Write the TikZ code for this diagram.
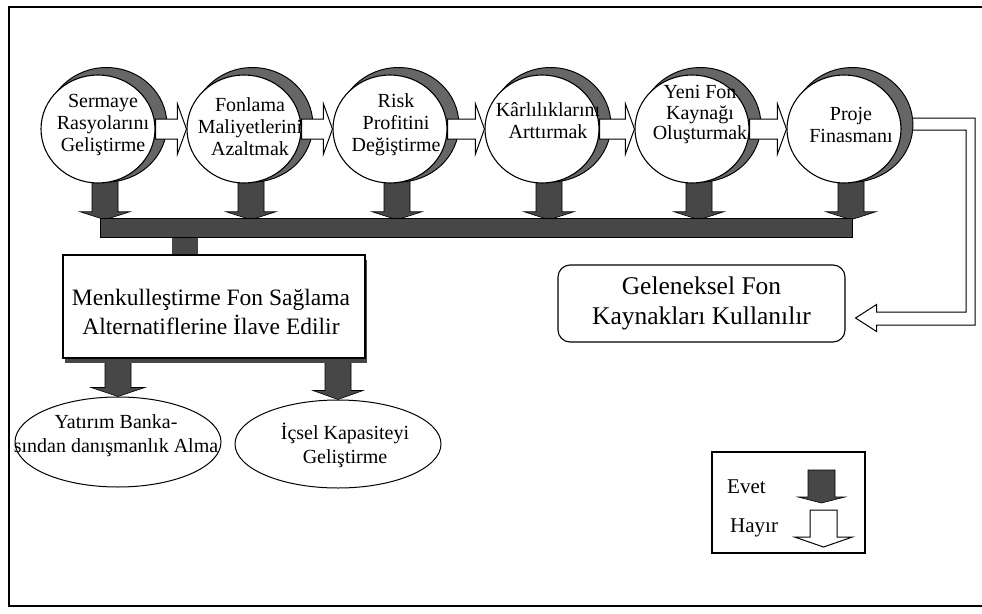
\documentclass[tikz,border=0pt]{standalone}
\usepackage{fontspec}
\setmainfont{Liberation Serif}
\usetikzlibrary{shapes.geometric,shadows,calc}
\pgfdeclarelayer{back}
\pgfsetlayers{back,main}
\colorlet{barfill}{black!72}
\colorlet{ringfill}{black!60}
\tikzset{
  frameline/.style={line width=1.4pt, draw=black},
  goal/.style={ellipse, draw=black, line width=1.1pt, fill=white,
    minimum width=114pt, minimum height=108pt, inner sep=0pt,
    general shadow={shadow xshift=8pt, shadow yshift=4pt, shadow scale=1.06,
      fill=ringfill, draw=black, line width=0.9pt}},
  ctext/.style={align=center, inner sep=0pt, font=\fontsize{20}{22}\selectfont},
  darkbar/.style={rectangle, fill=barfill, draw=black, line width=0.5pt, inner sep=0pt},
  darkarrow/.style={fill=barfill, draw=black, line width=0.6pt},
  whitearrow/.style={fill=white, draw=black, line width=1pt},
  % vertical block arrow: body half width, head half width, head depth
  vblock/.style n args={3}{to path={let \p1=(\tikztostart), \p2=(\tikztotarget) in
    (\x2-#1,\y1) -- (\x2-#1,\y2+#3) -- (\x2-#2,\y2+#3) -- (\x2,\y2)
    -- (\x2+#2,\y2+#3) -- (\x2+#1,\y2+#3) -- (\x2+#1,\y1) -- cycle}},
  % horizontal block arrow to the right
  hblock/.style={to path={let \p1=(\tikztostart), \p2=(\tikztotarget) in
    (\x1,\y2+10pt) -- (\x2-9pt,\y2+10pt) -- (\x2-9pt,\y2+25pt) -- (\x2,\y2)
    -- (\x2-9pt,\y2-25pt) -- (\x2-9pt,\y2-10pt) -- (\x1,\y2-10pt) -- cycle}},
  mainbox/.style={rectangle, draw=black, line width=1.1pt, fill=white,
    minimum width=302pt, minimum height=103pt, inner sep=0pt,
    general shadow={shadow xshift=1.5pt, shadow yshift=-5pt, fill=barfill}},
  oval/.style={ellipse, draw=black, line width=1pt, fill=white,
    minimum width=206pt, minimum height=90pt, inner sep=0pt},
  otext/.style={align=center, inner sep=0pt, font=\fontsize{20}{24}\selectfont},
  roundbox/.style={rectangle, rounded corners=12pt, draw=black, line width=1.1pt,
    fill=white, minimum width=287pt, minimum height=77pt, align=center,
    font=\fontsize{25.5}{30}\selectfont},
  legendbox/.style={rectangle, draw=black, line width=1.1pt,
    minimum width=153pt, minimum height=101pt, inner sep=0pt},
  ltext/.style={anchor=west, inner sep=0pt, font=\fontsize{21}{24}\selectfont},
}
\begin{document}
\begin{tikzpicture}[x=1pt,y=-1pt]
\useasboundingbox (0,0) rectangle (982,613);
\clip (0,0) rectangle (982,613);

% outer frame (open to the right)
\draw[frameline] (1000,7) -- (9,7) -- (9,606) -- (1000,606);

% goal circles
\node[goal] (c1) at (98,129) {};
\node[goal] (c2) at (244,129) {};
\node[goal] (c3) at (390,129) {};
\node[goal] (c4) at (542,129) {};
\node[goal] (c5) at (692,129) {};
\node[goal] (c6) at (844,129) {};

\node[ctext] (t1) at (103,125) {Sermaye\\Rasyolarını\\Geliştirme};
\node[ctext] (t2) at (250,127) {Fonlama\\Maliyetlerini\\Azaltmak};
\node[ctext] (t3) at (396,125) {Risk\\Profitini\\Değiştirme};
\node[ctext] (t4) at (548,121) {Kârlılıklarını\\Arttırmak};
\node[ctext, font=\fontsize{20}{20.5}\selectfont] (t5) at (700,115) {Yeni Fon\\Kaynağı\\Oluşturmak};
\node[ctext] (t6) at (851,125) {Proje\\Finasmanı};

% chain arrows between the circles
\draw[hblock, whitearrow] (c1.east) to (c2.west);
\draw[hblock, whitearrow] (c2.east) to (c3.west);
\draw[hblock, whitearrow] (c3.east) to (c4.west);
\draw[hblock, whitearrow] (c4.east) to (c5.west);
\draw[hblock, whitearrow] (c5.east) to (c6.west);

% collecting bar
\node[darkbar, minimum width=752pt, minimum height=19pt] (bar) at (476,227.5) {};

% securitisation box and its outcomes
\node[mainbox] (box) at (214,306.5) {};
\node[align=center, inner sep=0pt, font=\fontsize{23.5}{29}\selectfont] (boxtext) at (211,312)
  {Menkulleştirme Fon Sağlama\\Alternatiflerine İlave Edilir};

\node[oval] (e1) at (118,442) {};
\node[oval, minimum height=88pt] (e2) at (338,444) {};
\node[otext] (y1) at (116,436) {Yatırım Banka-\\sından danışmanlık Alma};
\node[otext] (y2) at (345,445) {İçsel Kapasiteyi\\Geliştirme};

% traditional funding
\node[roundbox] (gel) at (701.5,303.5) {Geleneksel Fon\\Kaynakları Kullanılır};
\coordinate (hr) at (970.5,124);

% legend
\node[legendbox] (leg) at (788.5,502.5) {};
\node[ltext] (evet) at (727,487) {Evet};
\node[ltext] (hayir) at (730,528) {Hayır};
\coordinate (ev1) at (821.5,470);
\coordinate (ev2) at (821.5,503);
\coordinate (hy1) at (823.5,510);
\coordinate (hy2) at (823.5,547);
\draw[vblock={13.5pt}{23.5pt}{6pt}, darkarrow] (ev1) to (ev2);
\draw[vblock={13.5pt}{29pt}{10pt}, whitearrow] (hy1) to (hy2);

\begin{pgfonlayer}{back}
  % "yes" arrows from every circle into the bar
  \foreach \i in {1,...,6}
    \draw[vblock={13pt}{25pt}{8pt}, darkarrow]
      ($(c\i.south)+(7,-3)$) to ($(c\i.south |- bar.north)+(7,2)$);
  % stem from the bar into the box
  \fill[barfill] ($(box.north)+(-42,0)$) rectangle ($(bar.south -| box.north)+(-16,-1)$);
  % arrows from the box to the two ellipses
  \draw[vblock={13pt}{27pt}{9pt}, darkarrow] (box.south -| e1.north) to (e1.north);
  \draw[vblock={13pt}{25pt}{9pt}, darkarrow] (box.south -| e2.north) to (e2.north);
  % "no" arrow from project finance to traditional funding
  \draw[whitearrow] let \p1=($(c6.east)+(0,-5)$), \p2=($(gel.east)+(10,14.5)$), \p3=(hr) in
    (\x1,\y1+6pt) -- (\x3+4.5pt,\y1+6pt) -- (\x3+4.5pt,\y2-7pt) -- (\x2+21pt,\y2-7pt)
    -- (\x2+21pt,\y2-13.5pt) -- (\x2,\y2) -- (\x2+21pt,\y2+13.5pt) -- (\x2+21pt,\y2+6pt)
    -- (\x3-4.5pt,\y2+6pt) -- (\x3-4.5pt,\y1-6pt) -- (\x1,\y1-6pt);
\end{pgfonlayer}
\end{tikzpicture}
\end{document}
